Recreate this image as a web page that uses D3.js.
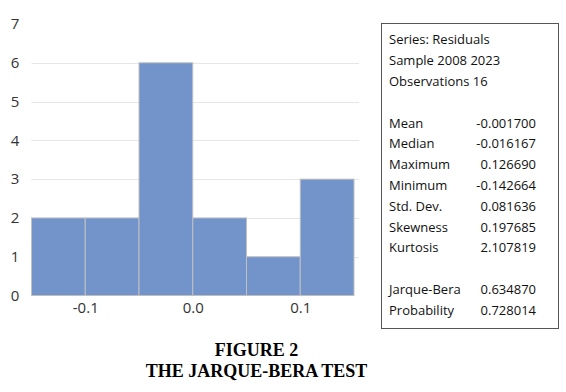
<!DOCTYPE html>
<html>
<head>
<meta charset="utf-8">
<script src="https://d3js.org/d3.v7.min.js"></script>
<style>
  body { margin: 0; background: #fff; }
  .tick text { font-family: "Open Sans", "Liberation Sans", sans-serif; fill: #333; }
</style>
</head>
<body>
<div id="chart"></div>
<script>
// histogram bins (residuals) and counts
const binEdges = [-0.15, -0.10, -0.05, 0.00, 0.05, 0.10, 0.15];
const counts = [2, 2, 6, 2, 1, 3];
const xTicks = [-0.1, 0.0, 0.1];
const yTicks = [0, 1, 2, 3, 4, 5, 6, 7];

const statLabels = ["Mean", "Median", "Maximum", "Minimum", "Std. Dev.", "Skewness", "Kurtosis", "", "Jarque-Bera", "Probability"];
const statValues = ["-0.001700", "-0.016167", "0.126690", "-0.142664", "0.081636", "0.197685", "2.107819", "", "0.634870", "0.728014"];
const headerLines = ["Series: Residuals", "Sample 2008 2023", "Observations 16"];
const titleLines = ["FIGURE 2", "THE JARQUE-BERA TEST"];

const W = 566, H = 392;
const svg = d3.select("#chart").append("svg").attr("width", W).attr("height", H);

const x = d3.scaleLinear().domain([-0.15, 0.15]).range([31.5, 354]);
const y = d3.scaleLinear().domain([0, 7]).range([295.5, 24]);

// gridlines
svg.append("g")
  .selectAll("line")
  .data(yTicks.filter(d => d > 0 && d < 7))
  .join("line")
  .attr("x1", x(-0.15)).attr("x2", 359)
  .attr("y1", d => Math.round(y(d)) + 0.5).attr("y2", d => Math.round(y(d)) + 0.5)
  .attr("stroke", "#e6e6e6");

// bars
svg.append("g")
  .selectAll("rect")
  .data(counts)
  .join("rect")
  .attr("x", (d, i) => x(binEdges[i]))
  .attr("y", d => y(d))
  .attr("width", (d, i) => x(binEdges[i + 1]) - x(binEdges[i]))
  .attr("height", d => y(0) - y(d))
  .attr("fill", "#7294cb")
  .attr("stroke", "#c0c0c0")
  .attr("stroke-width", 1);

// y axis
const yAxis = svg.append("g")
  .attr("transform", "translate(20,0)")
  .call(d3.axisLeft(y).tickValues(yTicks).tickFormat(d3.format("d")).tickSize(0).tickPadding(0));
yAxis.select(".domain").remove();
yAxis.selectAll("text").attr("font-size", 15).attr("text-anchor", "middle").attr("x", -5);

// x axis (plain hyphen for minus, as in the original)
const xAxis = svg.append("g")
  .attr("transform", "translate(0," + y(0) + ")")
  .call(d3.axisBottom(x).tickValues(xTicks).tickFormat(d => d.toFixed(1)).tickSize(0).tickPadding(7));
xAxis.select(".domain").remove();
xAxis.selectAll("text").attr("font-size", 15);

// stats box
const box = svg.append("g");
box.append("rect")
  .attr("x", 381.5).attr("y", 23.5).attr("width", 177).attr("height", 305)
  .attr("fill", "#fff").attr("stroke", "#555");

const boxFont = "'Open Sans', 'Liberation Sans', sans-serif";
box.selectAll("text.head")
  .data(headerLines)
  .join("text")
  .attr("class", "head")
  .attr("x", 389).attr("y", (d, i) => 44 + i * 20.8)
  .attr("font-family", boxFont).attr("font-size", 13).attr("fill", "#111")
  .text(d => d);

box.selectAll("text.lab")
  .data(statLabels)
  .join("text")
  .attr("class", "lab")
  .attr("x", 389).attr("y", (d, i) => 127.5 + i * 20.8)
  .attr("font-family", boxFont).attr("font-size", 13).attr("fill", "#111")
  .text(d => d);

box.selectAll("text.val")
  .data(statValues)
  .join("text")
  .attr("class", "val")
  .attr("x", 536).attr("y", (d, i) => 127.5 + i * 20.8)
  .attr("text-anchor", "end")
  .attr("font-family", boxFont).attr("font-size", 13).attr("fill", "#111")
  .text(d => d);

// caption
svg.selectAll("text.title")
  .data(titleLines)
  .join("text")
  .attr("class", "title")
  .attr("x", 256.5).attr("y", (d, i) => 356 + i * 21)
  .attr("text-anchor", "middle")
  .attr("font-family", "'Liberation Serif', 'Times New Roman', serif")
  .attr("font-weight", "bold").attr("font-size", 18)
  .text(d => d);
</script>
</body>
</html>
